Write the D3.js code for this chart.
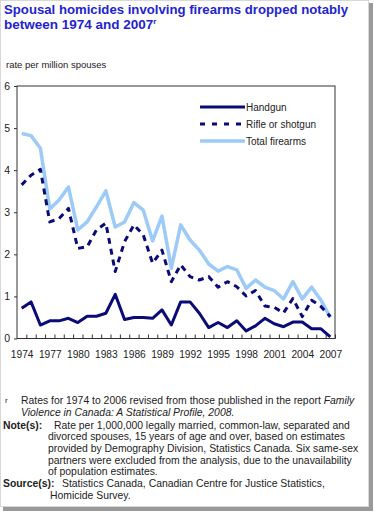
<!DOCTYPE html>
<html>
<head>
<meta charset="utf-8">
<script src="https://cdn.jsdelivr.net/npm/d3@7"></script>
<style>
  body { margin: 0; background: #fff; }
  svg { display: block; font-family: "Liberation Sans", Arial, sans-serif; }
</style>
</head>
<body>
<div id="chart"></div>
<script>
'use strict';

// years on the category axis
const years = d3.range(1974, 2008);
const yearLabels = [1974, 1977, 1980, 1983, 1986, 1989, 1992, 1995, 1998, 2001, 2004, 2007];
const yTicks = [0, 1, 2, 3, 4, 5, 6];

// rate per million spouses
const handgun = [0.72, 0.87, 0.32, 0.42, 0.42, 0.48, 0.38, 0.53, 0.53, 0.60,
                 1.05, 0.45, 0.50, 0.50, 0.48, 0.68, 0.32, 0.87, 0.87, 0.60,
                 0.26, 0.38, 0.26, 0.42, 0.18, 0.30, 0.48, 0.35, 0.28, 0.39,
                 0.39, 0.23, 0.23, 0.04];
const rifle = [3.65, 3.88, 4.02, 2.77, 2.85, 3.09, 2.14, 2.18, 2.58, 2.74,
               1.59, 2.30, 2.70, 2.46, 1.79, 2.10, 1.35, 1.75, 1.47, 1.39,
               1.47, 1.22, 1.35, 1.23, 1.01, 1.14, 0.77, 0.74, 0.61, 0.95,
               0.52, 0.91, 0.76, 0.52];
const total = [4.87, 4.82, 4.52, 3.08, 3.29, 3.60, 2.58, 2.77, 3.13, 3.51,
               2.65, 2.77, 3.23, 3.05, 2.32, 2.91, 1.67, 2.70, 2.34, 2.10,
               1.77, 1.60, 1.71, 1.63, 1.19, 1.39, 1.22, 1.14, 0.94, 1.35,
               0.94, 1.22, 0.91, 0.50];

const seriesNames = ["Handgun", "Rifle or shotgun", "Total firearms"];

const width = 375, height = 513;
const navy = "#0b0b78", lightBlue = "#9ccbf7";

const svg = d3.select("#chart").append("svg")
    .attr("width", width)
    .attr("height", height);

// drop shadow frame round the picture
svg.append("rect").attr("x", 368).attr("y", 3).attr("width", 5).attr("height", 508).attr("fill", "#9a9a9a");
svg.append("rect").attr("x", 3).attr("y", 506).attr("width", 370).attr("height", 5).attr("fill", "#9a9a9a");
svg.append("rect").attr("x", 0.5).attr("y", 0.5).attr("width", 368).attr("height", 506)
    .attr("fill", "#fff").attr("stroke", "#d8d8d8");

// title
const titleStyle = sel => sel.attr("fill", "#2323d0")
    .style("font-size", "13.5px")
    .style("font-weight", "bold");
svg.append("text").call(titleStyle)
    .attr("x", 4).attr("y", 14)
    .attr("textLength", 344).attr("lengthAdjust", "spacingAndGlyphs")
    .text("Spousal homicides involving firearms dropped notably");
const title2 = svg.append("text").call(titleStyle).attr("x", 4).attr("y", 29);
title2.append("tspan").text("between 1974 and 2007");
title2.append("tspan").attr("dy", -5).style("font-size", "8px").text("r");

svg.append("text")
    .attr("x", 6).attr("y", 68)
    .style("font-size", "9.5px")
    .attr("fill", "#222")
    .text("rate per million spouses");

// scales
const plotLeft = 17, plotRight = 335, plotTop = 86, plotBottom = 338.5;
const x = d3.scaleLinear().domain([1973.5, 2007.5]).range([plotLeft, plotRight]);
const y = d3.scaleLinear().domain([0, 6]).range([plotBottom, plotTop]);

// left axis
const yAxis = svg.append("g")
    .attr("transform", "translate(" + plotLeft + ",0)")
    .call(d3.axisLeft(y).tickValues(yTicks).tickSize(3).tickPadding(4).tickFormat(d3.format("d")));
yAxis.select(".domain").remove();
yAxis.selectAll("line").attr("stroke", "#333");
yAxis.selectAll("text").style("font-size", "10.5px").style("font-family", "Liberation Sans, Arial, sans-serif").attr("fill", "#222");

// bottom ticks between categories
const xTickAxis = svg.append("g")
    .attr("transform", "translate(0," + plotBottom + ")")
    .call(d3.axisBottom(x).tickValues(years.map(d => d + 0.5)).tickSize(-4).tickFormat(""));
xTickAxis.select(".domain").remove();
xTickAxis.selectAll("line").attr("stroke", "#333");

// year labels
const xLabelAxis = svg.append("g")
    .attr("transform", "translate(0," + plotBottom + ")")
    .call(d3.axisBottom(x).tickValues(yearLabels).tickSize(0).tickPadding(12).tickFormat(d3.format("d")));
xLabelAxis.select(".domain").remove();
xLabelAxis.selectAll("text").style("font-size", "10.2px").style("font-family", "Liberation Sans, Arial, sans-serif").attr("fill", "#222");

// plot frame
svg.append("rect")
    .attr("x", plotLeft).attr("y", plotTop)
    .attr("width", plotRight - plotLeft).attr("height", plotBottom - plotTop)
    .attr("fill", "none").attr("stroke", "#333").attr("stroke-width", 1);

// lines
const line = d3.line()
    .x((d, i) => x(years[i]))
    .y(d => y(d));

const styles = [
    { data: handgun, color: navy, width: 3, dash: null },
    { data: rifle, color: navy, width: 3, dash: "6,5" },
    { data: total, color: lightBlue, width: 3.5, dash: null }
];

[styles[2], styles[1], styles[0]].forEach(s => {
    svg.append("path")
        .datum(s.data)
        .attr("d", line)
        .attr("fill", "none")
        .attr("stroke", s.color)
        .attr("stroke-width", s.width)
        .attr("stroke-linejoin", "round")
        .attr("stroke-dasharray", s.dash);
});

// legend
const legend = svg.append("g").attr("transform", "translate(200,107)");
styles.forEach((s, i) => {
    const g = legend.append("g").attr("transform", "translate(0," + (i * 17) + ")");
    g.append("line")
        .attr("x1", 0).attr("x2", 45)
        .attr("stroke", s.color)
        .attr("stroke-width", s.width)
        .attr("stroke-dasharray", i === 1 ? "5,7" : null);
    g.append("text")
        .attr("x", 46).attr("y", 3.5)
        .style("font-size", "10px")
        .attr("fill", "#222")
        .text(seriesNames[i]);
});

// footnotes
const foot = svg.append("g").style("font-size", "10.4px").attr("fill", "#222");
foot.append("text").attr("x", 5).attr("y", 403).style("font-size", "8px").text("r");
const f1 = foot.append("text").attr("x", 21).attr("y", 404);
f1.append("tspan").text("Rates for 1974 to 2006 revised from those published in the report ");
f1.append("tspan").style("font-style", "italic").text("Family");
foot.append("text").attr("x", 21).attr("y", 416).style("font-style", "italic")
    .text("Violence in Canada: A Statistical Profile, 2008.");

foot.append("text").attr("x", 3).attr("y", 428.5).style("font-weight", "bold").text("Note(s):");
const noteLines = [
    "Rate per 1,000,000 legally married, common-law, separated and",
    "divorced spouses, 15 years of age and over, based on estimates",
    "provided by Demography Division, Statistics Canada. Six same-sex",
    "partners were excluded from the analysis, due to the unavailability",
    "of population estimates."
];
noteLines.forEach((t, i) => {
    foot.append("text").attr("x", i === 0 ? 54 : 48).attr("y", 428.5 + i * 11.7).text(t);
});

foot.append("text").attr("x", 3).attr("y", 487).style("font-weight", "bold").text("Source(s):");
foot.append("text").attr("x", 62).attr("y", 487).text("Statistics Canada, Canadian Centre for Justice Statistics,");
foot.append("text").attr("x", 50).attr("y", 499).text("Homicide Survey.");
</script>
</body>
</html>
